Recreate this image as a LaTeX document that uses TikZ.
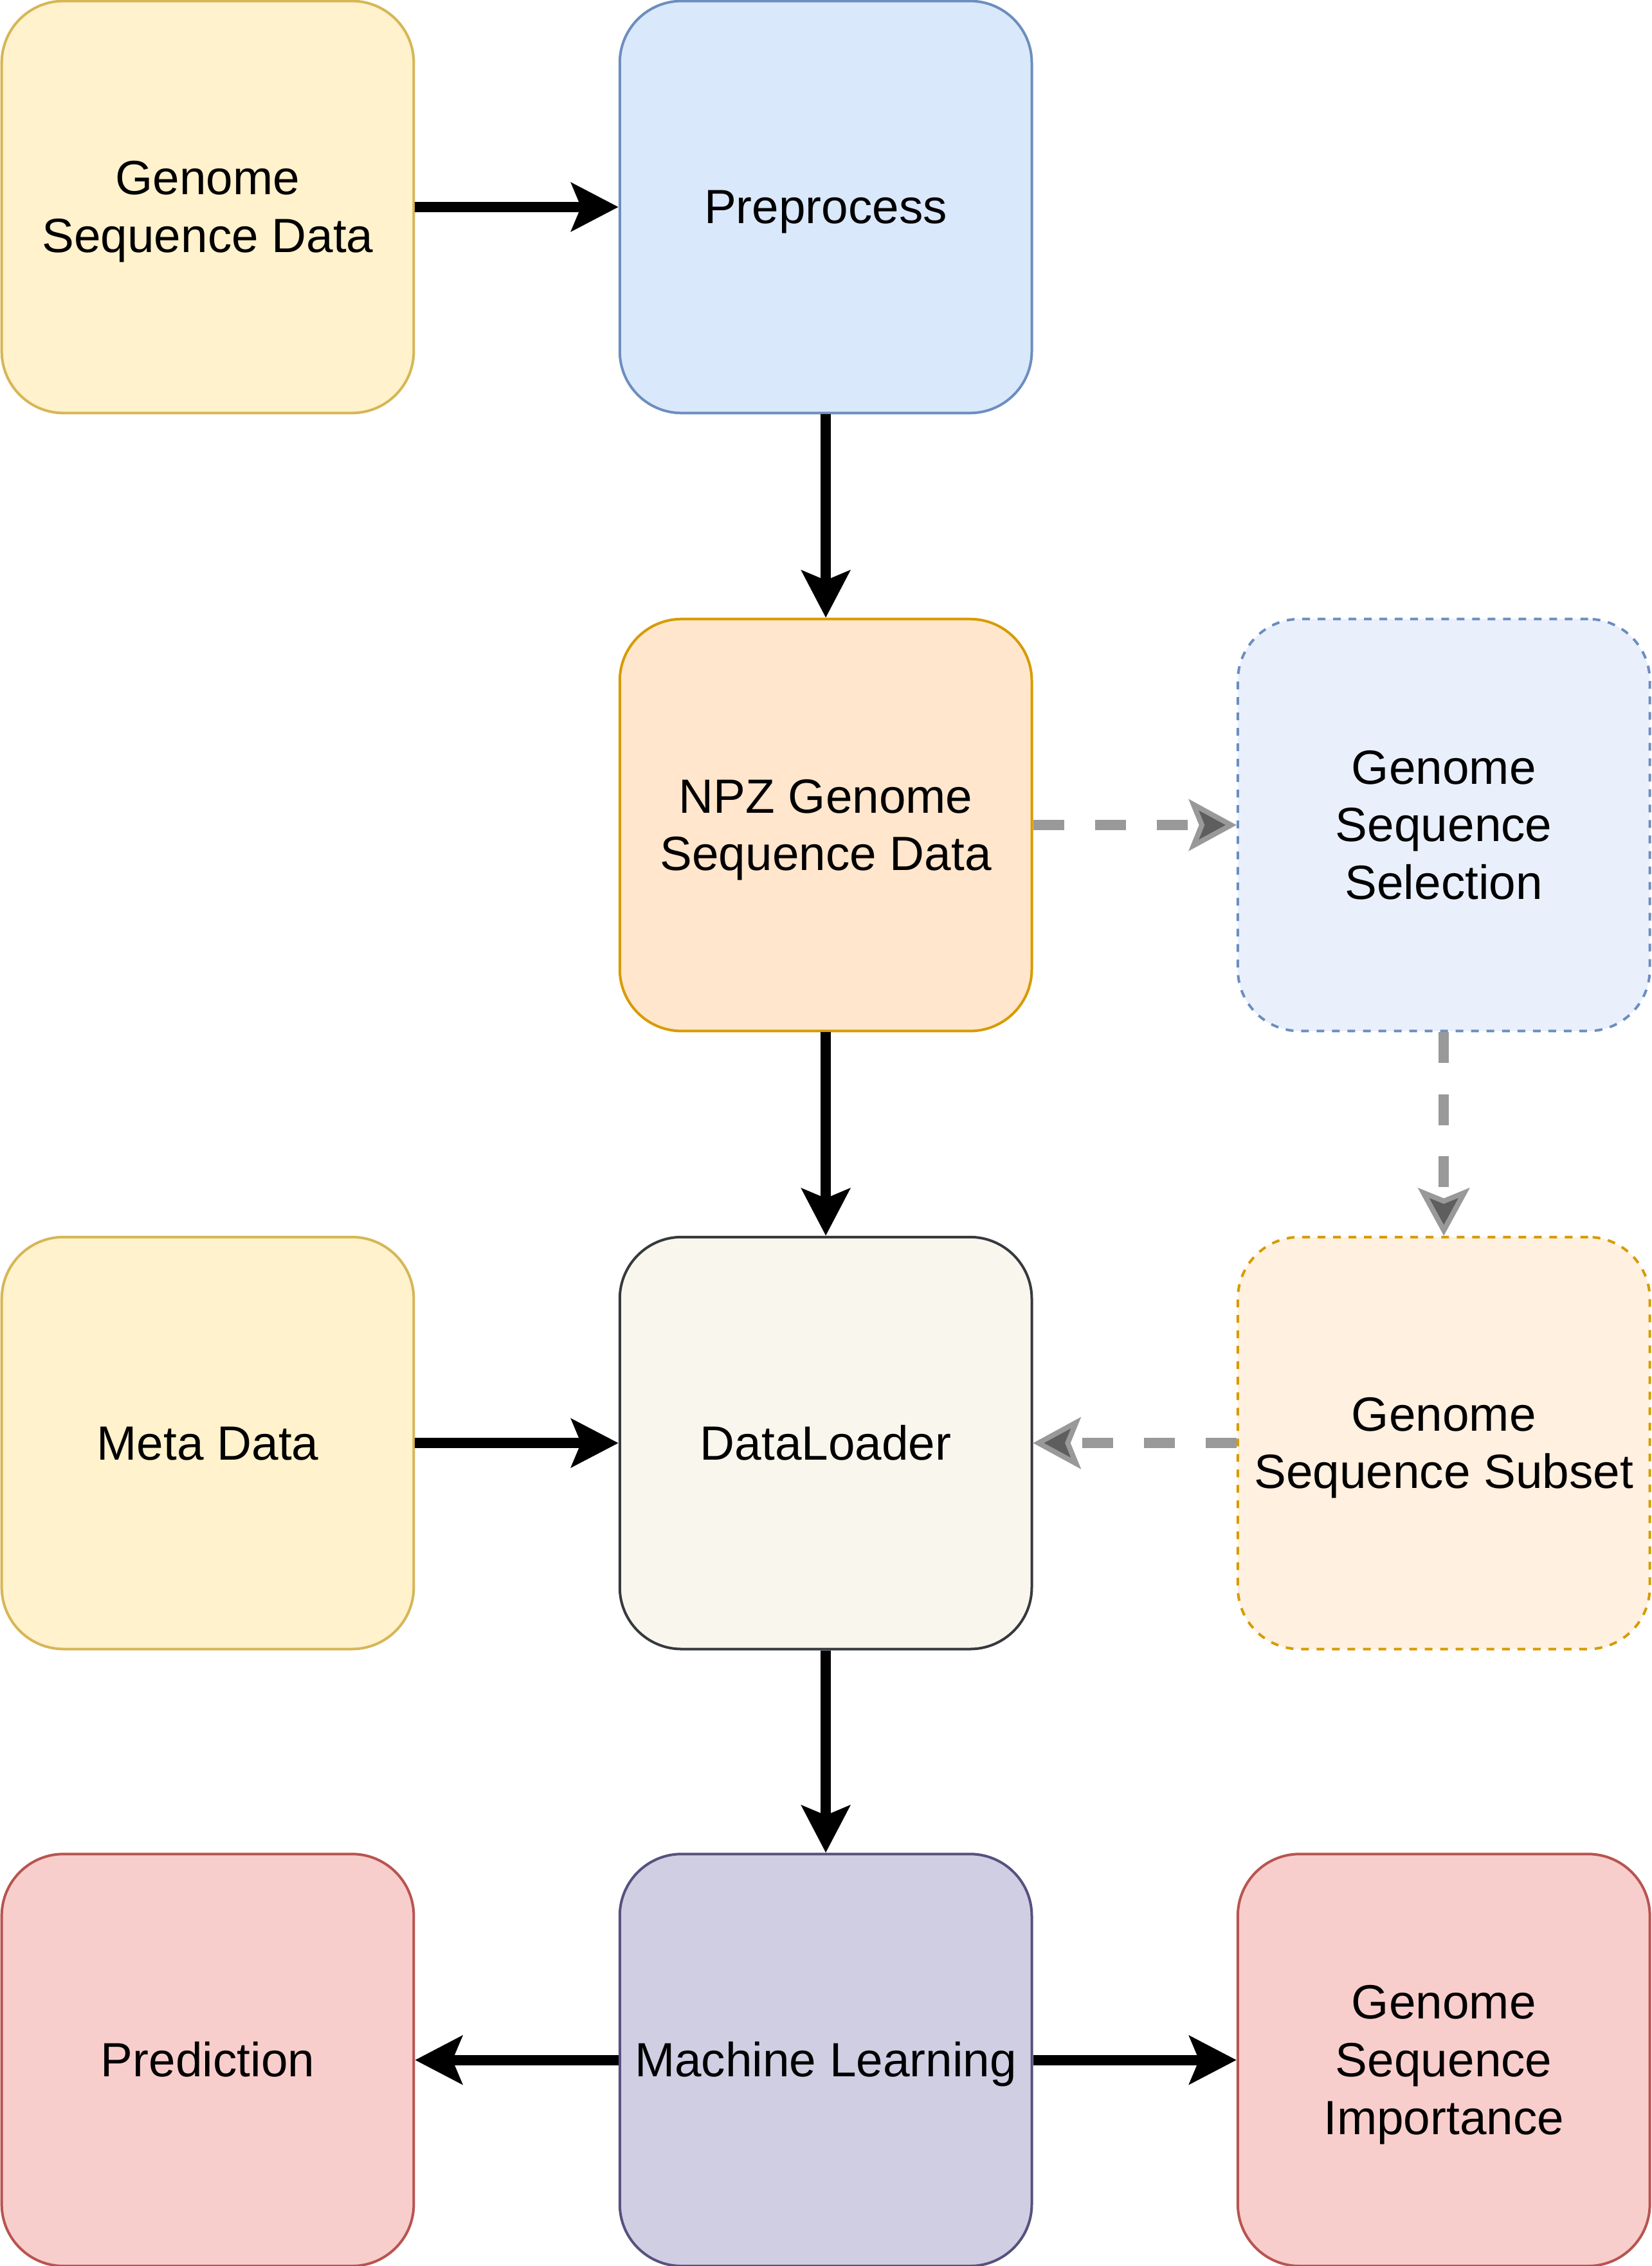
\documentclass[tikz,border=0pt]{standalone}
\usepackage{fontspec}
\setmainfont{Liberation Sans}
\usetikzlibrary{arrows.meta}
\definecolor{yfill}{HTML}{FFF2CC}\definecolor{ydraw}{HTML}{D6B656}
\definecolor{bfill}{HTML}{DAE8FC}\definecolor{bdraw}{HTML}{6C8EBF}
\definecolor{ofill}{HTML}{FFE6CC}\definecolor{odraw}{HTML}{D79B00}
\definecolor{gfill}{HTML}{F9F7ED}\definecolor{gdraw}{HTML}{36393D}
\definecolor{pfill}{HTML}{D0CEE2}\definecolor{pdraw}{HTML}{56517E}
\definecolor{rfill}{HTML}{F8CECC}\definecolor{rdraw}{HTML}{B85450}
\definecolor{lbfill}{HTML}{E9F0FC}
\definecolor{lofill}{HTML}{FFF0E0}
\definecolor{dgray}{HTML}{999999}
\definecolor{dgrayin}{HTML}{5E5E5E}
\newcommand\lstrut{\rule[-3.55pt]{0pt}{16.8pt}}
\tikzset{
  box/.style={rectangle, rounded corners=18pt, minimum width=120pt, minimum height=120pt,
    line width=0.75pt, align=center, inner sep=0pt, font=\fontsize{14}{16.8}\selectfont},
  dashbox/.style={box, dash pattern=on 2.25pt off 2.25pt},
  arr/.style={line width=3pt, -{Stealth[length=13.7pt, width=14pt, inset=2.8pt]}},
  darr/.style={draw=dgray, line width=3pt, dash pattern=on 9pt off 9pt,
    -{Stealth[length=13.9pt, width=15pt, inset=3pt, fill=dgrayin, line width=1.5pt]}}
}
\begin{document}
\begin{tikzpicture}[x=1pt,y=1pt]
\useasboundingbox (0,0) rectangle (481,-660);
\node[box, fill=yfill, draw=ydraw] (gsd) at (60.5,-60.3) {\lstrut Genome\\\lstrut Sequence Data};
\node[box, fill=bfill, draw=bdraw] (pre) at (240.5,-60.3) {\lstrut Preprocess};
\node[box, fill=ofill, draw=odraw] (npz) at (240.5,-240.3) {\lstrut NPZ Genome\\\lstrut Sequence Data};
\node[dashbox, fill=lbfill, draw=bdraw] (sel) at (420.5,-240.3) {\lstrut Genome\\\lstrut Sequence\\\lstrut Selection};
\node[box, fill=yfill, draw=ydraw] (meta) at (60.5,-420.3) {\lstrut Meta Data};
\node[box, fill=gfill, draw=gdraw] (dl) at (240.5,-420.3) {\lstrut DataLoader};
\node[dashbox, fill=lofill, draw=odraw] (sub) at (420.5,-420.3) {\lstrut Genome\\\lstrut Sequence Subset};
\node[box, fill=rfill, draw=rdraw] (pred) at (60.5,-600) {\lstrut Prediction};
\node[box, fill=pfill, draw=pdraw] (ml) at (240.5,-600) {\lstrut Machine Learning};
\node[box, fill=rfill, draw=rdraw] (imp) at (420.5,-600) {\lstrut Genome\\\lstrut Sequence\\\lstrut Importance};
\draw[arr] (gsd.east) -- (pre.west);
\draw[arr] (pre.south) -- (npz.north);
\draw[arr] (npz.south) -- (dl.north);
\draw[arr] (meta.east) -- (dl.west);
\draw[arr] (dl.south) -- (ml.north);
\draw[arr] (ml.west) -- (pred.east);
\draw[arr] (ml.east) -- (imp.west);
\draw[darr] (npz.east) -- (sel.west);
\draw[darr] (sel.south) -- (sub.north);
\draw[darr] (sub.west) -- (dl.east);
\end{tikzpicture}
\end{document}
